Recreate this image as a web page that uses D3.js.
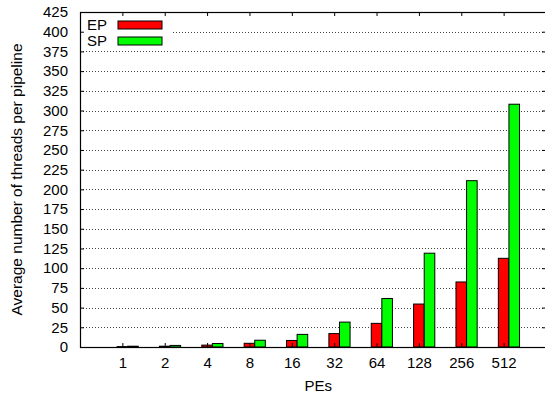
<!DOCTYPE html>
<html>
<head>
<meta charset="utf-8">
<script src="https://cdn.jsdelivr.net/npm/d3@7"></script>
<style>
  body { margin: 0; background: #fff; }
  svg { display: block; font-family: "Liberation Sans", Arial, sans-serif; }
  .axis path { display: none; }
  .axis line { stroke: #000; }
  .axis text { font-size: 15px; fill: #000; }
</style>
</head>
<body>
<svg width="545" height="401"></svg>
<script>
// PEs on the x axis, one cluster each
var pes = ["1", "2", "4", "8", "16", "32", "64", "128", "256", "512"];
// average threads per pipeline
var ep = [0.5, 1, 2.4, 4.7, 8.3, 17, 30, 54.5, 82.5, 112.5];
var sp = [1, 2, 4.4, 8.6, 16, 31.6, 61.5, 119, 211, 308];
var yTicks = d3.range(0, 426, 25);

var series = [
  {name: "EP", values: ep, color: "#ff0000", offset: 0},
  {name: "SP", values: sp, color: "#00ff00", offset: 0.25}
];

var margin = {top: 12, right: -1, bottom: 54, left: 80},
    width = 545 - margin.left - margin.right,
    height = 401 - margin.top - margin.bottom;

var svg = d3.select("svg");
var g = svg.append("g")
    .attr("transform", "translate(" + margin.left + "," + margin.top + ")");

var x = d3.scaleLinear().domain([-1, pes.length]).range([0, width]);
var y = d3.scaleLinear().domain([0, 425]).range([height, 0]);
var barW = 0.25;

// dotted grid lines
g.selectAll(".grid")
    .data(yTicks.filter(function(d) { return d > 0 && d < 425; }))
    .enter().append("line")
    .attr("class", "grid")
    .attr("x1", 0).attr("x2", width)
    .attr("y1", function(d) { return Math.round(y(d)) + 0.5; })
    .attr("y2", function(d) { return Math.round(y(d)) + 0.5; })
    .attr("stroke", "#444")
    .attr("stroke-width", 1)
    .attr("stroke-dasharray", "1,2");

// bars
series.forEach(function(s) {
  g.selectAll(".bar-" + s.name)
      .data(s.values)
      .enter().append("rect")
      .attr("x", function(d, i) { return x(i - barW / 2 + s.offset); })
      .attr("width", x(barW) - x(0))
      .attr("y", function(d) { return y(d); })
      .attr("height", function(d) { return y(0) - y(d); })
      .attr("fill", s.color)
      .attr("stroke", "#000")
      .attr("stroke-width", 1);
});

// key (opaque box hides the grid behind it)
var key = g.append("g");
key.append("rect")
    .attr("x", 1).attr("y", 1)
    .attr("width", 90).attr("height", 35)
    .attr("fill", "#fff");
series.forEach(function(s, i) {
  var row = key.append("g").attr("transform", "translate(0," + (12 + i * 16) + ")");
  row.append("text")
      .attr("x", 7).attr("y", 5.5)
      .style("font-size", "15px")
      .text(s.name);
  row.append("rect")
      .attr("x", 38).attr("y", -3)
      .attr("width", 44).attr("height", 8)
      .attr("fill", s.color)
      .attr("stroke", "#000");
});

// axes, ticks pointing inward, mirrored on top/right
var xAxis = d3.axisBottom(x)
    .tickValues(d3.range(pes.length))
    .tickFormat(function(i) { return pes[i]; })
    .tickSize(-4).tickPadding(10);
g.append("g").attr("class", "axis")
    .attr("transform", "translate(0," + height + ")")
    .call(xAxis);
g.append("g").attr("class", "axis")
    .call(d3.axisTop(x).tickValues(d3.range(pes.length)).tickSize(-4).tickFormat(""));

g.append("g").attr("class", "axis")
    .call(d3.axisLeft(y).tickValues(yTicks).tickSize(-4).tickPadding(12));
g.append("g").attr("class", "axis")
    .attr("transform", "translate(" + width + ",0)")
    .call(d3.axisRight(y).tickValues(yTicks).tickSize(-4).tickFormat(""));

// border
g.append("rect")
    .attr("x", 0.5).attr("y", 0.5)
    .attr("width", width).attr("height", height)
    .attr("fill", "none")
    .attr("stroke", "#000")
    .attr("stroke-width", 1.2);

// axis titles
svg.append("text")
    .attr("x", margin.left + x(4.5 + 0.125))
    .attr("y", 391)
    .attr("text-anchor", "middle")
    .style("font-size", "15px")
    .text("PEs");
svg.append("text")
    .attr("transform", "translate(22," + (margin.top + height / 2) + ") rotate(-90)")
    .attr("text-anchor", "middle")
    .style("font-size", "15.5px")
    .text("Average number of threads per pipeline");
</script>
</body>
</html>
